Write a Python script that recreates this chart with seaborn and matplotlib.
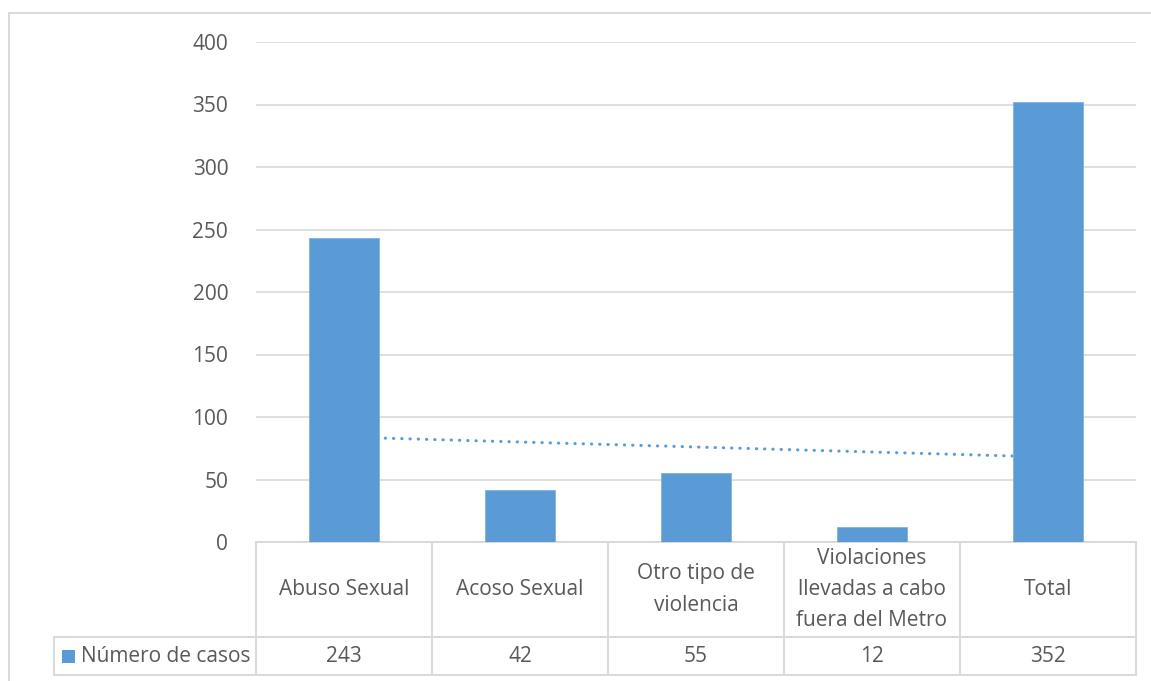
import matplotlib
matplotlib.use("Agg")
import matplotlib.pyplot as plt
import matplotlib.transforms as mtransforms
from matplotlib.patches import Rectangle
import seaborn as sns
import pandas as pd

# Data
categories = ["Abuso Sexual", "Acoso Sexual", "Otro tipo de\nviolencia",
              "Violaciones\nllevadas a cabo\nfuera del Metro", "Total"]
casos = [243, 42, 55, 12, 352]
series_name = "Número de casos"
trend_ends = [84, 68]          # linear trend value at first and last category
y_ticks = [0, 50, 100, 150, 200, 250, 300, 350, 400]

BAR = "#5B9BD5"
TXT = "#595959"
GRID = "#D9D9D9"
FS = 15

sns.set_theme(style="white")
plt.rcParams["font.family"] = ["Open Sans", "DejaVu Sans"]

W, H = 1151, 681
fig = plt.figure(figsize=(W / 100, H / 100), dpi=100)
fig.patch.set_facecolor("white")

# plot area in pixels
px_left, px_right, px_top, px_bottom = 256, 1136, 42, 542
ax = fig.add_axes([px_left / W, 1 - px_bottom / H,
                   (px_right - px_left) / W, (px_bottom - px_top) / H])

df = pd.DataFrame({"cat": categories, "val": casos})
sns.barplot(data=df, x="cat", y="val", color=BAR, width=0.4, saturation=1,
            ax=ax, zorder=3, edgecolor="#7FB2E0", linewidth=0.6)

# dotted linear trend line (behind bars)
n = len(categories)
tx = [0, n - 1]
ax.plot(tx, trend_ends, color=BAR, lw=2.2, linestyle=(0, (0.1, 2.6)),
        dash_capstyle="round", zorder=2)

ax.set_xlim(-0.5, n - 0.5)
ax.set_ylim(0, 400)
ax.set_yticks(y_ticks)
ax.set_yticklabels([str(t) for t in y_ticks])
ax.tick_params(axis="y", length=0, pad=20, labelsize=FS, labelcolor=TXT)
ax.set_xticks([])
ax.set_xlabel("")
ax.set_ylabel("")
ax.grid(axis="y", color=GRID, lw=1.2, zorder=0)
ax.set_axisbelow(True)
for s in ax.spines.values():
    s.set_visible(False)

# data table below the plot (x in data units, y in axes fraction)
tr = mtransforms.blended_transform_factory(ax.transData, ax.transAxes)
plot_h = px_bottom - px_top
y_top = 0.0
y_mid = -(637 - px_bottom) / plot_h
y_bot = -(675 - px_bottom) / plot_h
col_w = (px_right - px_left) / n
x_leg = -0.5 - (px_left - 54) / col_w

line_kw = dict(color=GRID, lw=1.4, transform=tr, clip_on=False, zorder=1)
ax.plot([-0.5, n - 0.5], [y_top, y_top], **line_kw)
ax.plot([x_leg, n - 0.5], [y_mid, y_mid], **line_kw)
ax.plot([x_leg, n - 0.5], [y_bot, y_bot], **line_kw)
for i in range(n + 1):
    ax.plot([i - 0.5, i - 0.5], [y_top, y_bot], **line_kw)
ax.plot([x_leg, x_leg], [y_mid, y_bot], **line_kw)

for i, (c, v) in enumerate(zip(categories, casos)):
    ax.text(i, (y_top + y_mid) / 2, c, ha="center", va="center",
            fontsize=FS, color=TXT, transform=tr, linespacing=1.65)
    ax.text(i, (y_mid + y_bot) / 2, str(v), ha="center", va="center",
            fontsize=FS, color=TXT, transform=tr)

# legend key inside the table
key_x = x_leg + (62 - 54) / col_w
key_w = 13 / col_w
key_h = 13 / plot_h
y_c = (y_mid + y_bot) / 2
ax.add_patch(Rectangle((key_x, y_c - key_h / 2), key_w, key_h, facecolor=BAR,
                       edgecolor="none", transform=tr, clip_on=False))
ax.text(x_leg + (81 - 54) / col_w, y_c, series_name, ha="left", va="center",
        fontsize=FS, color=TXT, transform=tr)

# chart frame
fig.add_artist(Rectangle((8.5 / W, 1 - 700 / H), (1200 - 8.5) / W, (700 - 12.5) / H,
                         facecolor="none", edgecolor=GRID, lw=1.4,
                         transform=fig.transFigure))

fig.savefig("out.png", dpi=100, facecolor="white")
